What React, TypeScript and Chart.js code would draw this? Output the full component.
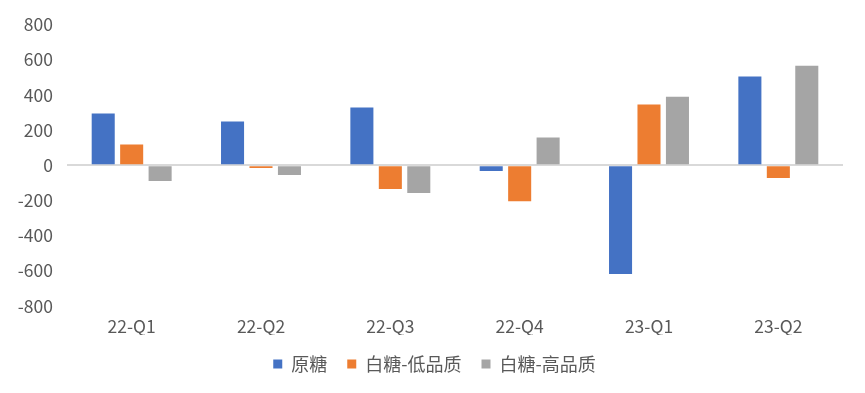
import React, { useEffect, useRef } from "react";
import { Chart, registerables } from "chart.js";

Chart.register(...registerables);

const categories = ["22-Q1", "22-Q2", "22-Q3", "22-Q4", "23-Q1", "23-Q2"];
const rawSugar = [294, 248, 328, -33, -618, 504];
const whiteLow = [118, -16, -135, -204, 345, -73];
const whiteHigh = [-90, -56, -158, 158, 390, 566];
const seriesNames = ["原糖", "白糖-低品质", "白糖-高品质"];
const seriesColors = ["#4472C4", "#ED7D31", "#A5A5A5"];

const FONT = "'Noto Sans CJK SC', 'Noto Sans', sans-serif";

const shiftLegend = {
  id: "shiftLegend",
  afterLayout(chart: any) {
    const lg = chart.legend;
    if (lg) {
      lg.left += 13;
      lg.right += 13;
    }
  },
};

export default function App() {
  const ref = useRef<HTMLCanvasElement | null>(null);
  useEffect(() => {
    if (!ref.current) return;
    const values = [rawSugar, whiteLow, whiteHigh];
    const chart = new Chart(ref.current, {
      type: "bar",
      data: {
        labels: categories,
        datasets: seriesNames.map((name, i) => ({
          label: name,
          data: values[i],
          backgroundColor: seriesColors[i],
          borderWidth: 0,
          barPercentage: 0.81,
          categoryPercentage: 0.66,
        })),
      },
      options: {
        animation: false,
        responsive: false,
        maintainAspectRatio: false,
        layout: { padding: { top: 23, right: 22, left: 0, bottom: 10 } },
        plugins: {
          tooltip: { enabled: false },
          legend: {
            position: "bottom",
            labels: {
              boxWidth: 9,
              boxHeight: 9,
              color: "#595959",
              font: { family: FONT, size: 18 },
              padding: 20,
            },
          },
        },
        scales: {
          x: {
            afterFit: (s: any) => {
              s.height = 29;
            },
            grid: { display: false, drawTicks: false },
            border: { display: false },
            ticks: {
              color: "#595959",
              font: { family: FONT, size: 17.5 },
              padding: 10,
            },
          },
          y: {
            min: -800,
            max: 800,
            afterFit: (s: any) => {
              s.width = 67;
            },
            ticks: {
              stepSize: 200,
              color: "#595959",
              font: { family: FONT, size: 17.5 },
              padding: 14,
            },
            border: { display: false },
            grid: {
              drawTicks: false,
              lineWidth: 2,
              color: (ctx: any) =>
                ctx.tick && ctx.tick.value === 0 ? "#D9D9D9" : "rgba(0,0,0,0)",
            },
          },
        },
      },
      plugins: [shiftLegend],
    });
    return () => chart.destroy();
  }, []);
  return (
    <div style={{ position: "fixed", left: 0, top: 0, width: 865, height: 393, background: "#fff" }}>
      <canvas ref={ref} width={865} height={393} style={{ width: 865, height: 393 }} />
    </div>
  );
}
